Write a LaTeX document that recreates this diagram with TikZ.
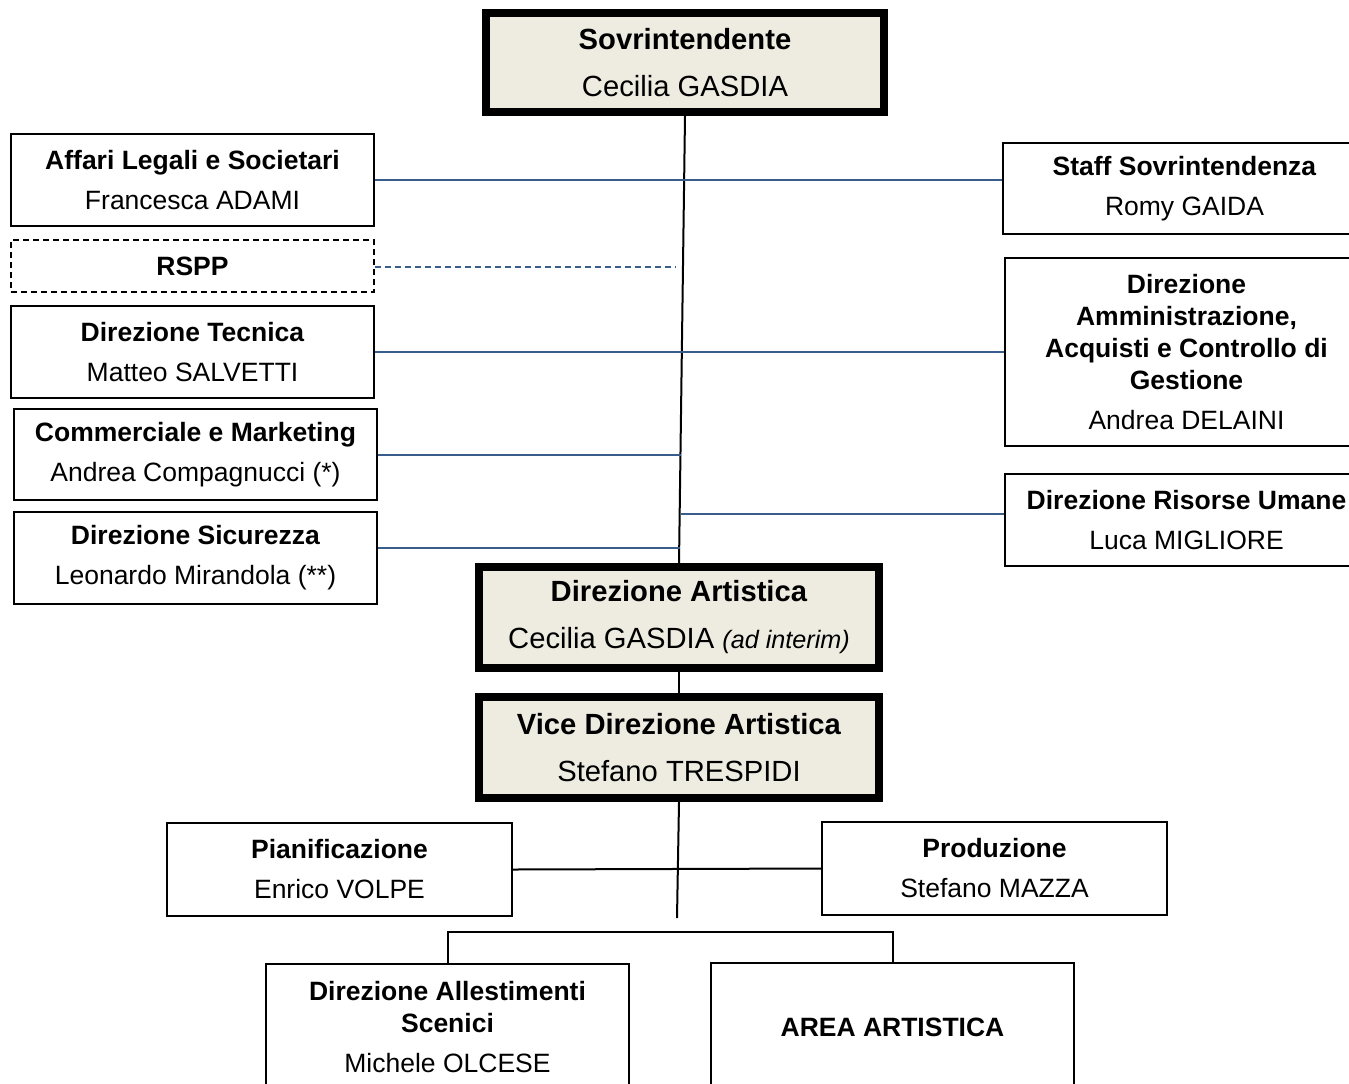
\documentclass[tikz,border=0pt]{standalone}
\usepackage{fontspec}
\setmainfont{Liberation Sans}
\definecolor{beigefill}{HTML}{EEECE1}
\definecolor{connblue}{HTML}{385D8A}
\newcommand\smallfnt{\fontsize{13.25}{16}\selectfont}
\newcommand\bigfnt{\fontsize{14.6}{18}\selectfont}
\newcommand\itfnt{\fontsize{12.6}{16}\selectfont}
\begin{document}
\begin{tikzpicture}[x=0.5pt,y=-0.5pt,
  thinbox/.style={draw=black, line width=1pt, fill=white, minimum width=181.5pt,
    minimum height=46pt, inner sep=0pt, align=center, font=\smallfnt},
  dashbox/.style={thinbox, dash pattern=on 3pt off 2pt, minimum height=26pt},
  bigbox/.style={draw=black, line width=4pt, fill=beigefill, minimum width=200pt,
    minimum height=50.5pt, inner sep=0pt, align=center, font=\bigfnt},
  conn/.style={draw=connblue, line width=0.8pt},
  conndash/.style={conn, dash pattern=on 3pt off 2pt},
  link/.style={draw=black, line width=1pt}]
\useasboundingbox (0,0) rectangle (1349,1083);
\fill[white] (0,0) rectangle (1349,1083);
\clip (0,0) rectangle (1349,1083);

% top
\node[bigbox, minimum width=199pt, minimum height=49.5pt] (sovr) at (685,62.5)
  {\textbf{Sovrintendente}\\[5.5pt]Cecilia GASDIA};

% left column
\node[thinbox] (affari) at (192.5,180) {\textbf{Affari Legali e Societari}\\[4pt]Francesca ADAMI};
\node[dashbox] (rspp) at (192.5,266) {\textbf{RSPP}};
\node[thinbox] (tecnica) at (192.5,352) {\textbf{Direzione Tecnica}\\[4pt]Matteo SALVETTI};
\node[thinbox, minimum height=45.5pt] (comm) at (195.5,454.5) {\textbf{Commerciale e Marketing}\\[4pt]Andrea Compagnucci (*)};
\node[thinbox] (sic) at (195.5,558) {\textbf{Direzione Sicurezza}\\[4pt]Leonardo Mirandola (**)};

% right column
\node[thinbox, minimum height=45.5pt] (staff) at (1184.5,188.5) {\textbf{Staff Sovrintendenza}\\[4pt]Romy GAIDA};
\node[thinbox, minimum height=94pt] (ammin) at (1186.5,352)
  {\textbf{Direzione}\\\textbf{Amministrazione,}\\\textbf{Acquisti e Controllo di}\\\textbf{Gestione}\\[4pt]Andrea DELAINI};
\node[thinbox] (risorse) at (1186.5,520) {\textbf{Direzione Risorse Umane}\\[4pt]Luca MIGLIORE};

% artistic chain
\node[bigbox] (dirart) at (679,617.5)
  {\textbf{Direzione Artistica}\\[5.5pt]Cecilia GASDIA {\itfnt\itshape (ad interim)}};
\node[bigbox] (vice) at (679,747.5)
  {\textbf{Vice Direzione Artistica}\\[5.5pt]Stefano TRESPIDI};

\node[thinbox, minimum width=172.5pt, minimum height=46.5pt] (pian) at (339.5,869.5)
  {\textbf{Pianificazione}\\[4pt]Enrico VOLPE};
\node[thinbox, minimum width=172.5pt, minimum height=46.5pt] (prod) at (994.5,868.5)
  {\textbf{Produzione}\\[4pt]Stefano MAZZA};

\node[thinbox, minimum height=63pt] (allest) at (447.5,1027)
  {\textbf{Direzione Allestimenti}\\\textbf{Scenici}\\[4pt]Michele OLCESE};
\node[thinbox, minimum height=64pt] (area) at (892.5,1027) {\textbf{AREA ARTISTICA}};

% coordinates for free ends
\coordinate (rsppend) at (676,267);
\coordinate (commend) at (681,455);
\coordinate (sicend) at (680,548);
\coordinate (risend) at (681,514);
\coordinate (viceend) at (677,918);

% main spine
\draw[link] (sovr.south) -- (dirart.north);
\draw[link] (dirart.south) -- (vice.north);
\draw[link] (vice.south) -- (viceend);
\draw[link] (pian.east) -- (prod.west);
\draw[link] (allest.north) -- ++(0,-31) -| (area.north);

% staff connectors
\draw[conn] (affari.east) -- (staff.west |- affari.east);
\draw[conndash] (rspp.east |- rsppend) -- (rsppend);
\draw[conn] (tecnica.east) -- (ammin.west);
\draw[conn] (comm.east |- commend) -- (commend);
\draw[conn] (sic.east |- sicend) -- (sicend);
\draw[conn] (risend) -- (risorse.west |- risend);
\end{tikzpicture}
\end{document}
